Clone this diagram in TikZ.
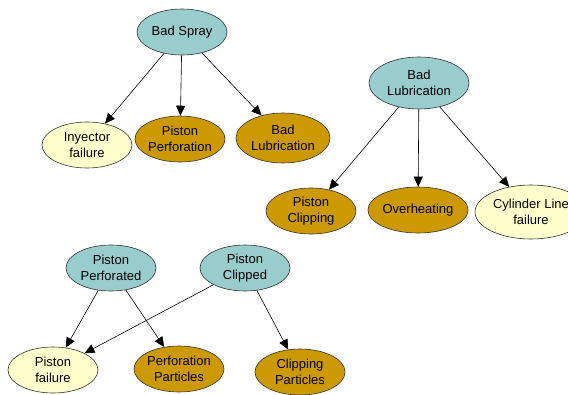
\documentclass[tikz,border=0pt]{standalone}
\usepackage{fontspec}
\setmainfont{Liberation Sans}
\usetikzlibrary{shapes.geometric,arrows.meta}
\definecolor{causeC}{HTML}{99CCCC}
\definecolor{effectC}{HTML}{CC9900}
\definecolor{failC}{HTML}{FFFFCC}
\definecolor{edgeC}{HTML}{333333}
\tikzset{
  evt/.style={ellipse, draw=edgeC, line width=0.6pt, inner sep=0pt,
    minimum width=90pt, minimum height=46pt, align=center,
    font=\fontsize{13}{16}\selectfont},
  cause/.style={evt, fill=causeC},
  effect/.style={evt, fill=effectC},
  fail/.style={evt, fill=failC},
  link/.style={draw=black, line width=0.6pt, -{Triangle[length=10pt,width=9pt]}}
}
\begin{document}
\begin{tikzpicture}[x=1pt,y=-1pt]
\clip (0,0) rectangle (568,394);
\fill[white] (0,0) rectangle (568,394);
% bad spray group
\node[cause] (spray) at (182,32) {Bad Spray};
\node[fail] (inyector) at (87,145) {Inyector\\failure};
\node[effect] (perforation) at (180,139) {Piston\\Perforation};
\node[effect, minimum width=94pt, minimum height=50pt] (lubL) at (283,138) {Bad\\Lubrication};
% bad lubrication group
\node[cause, minimum width=100pt, minimum height=52pt] (lub) at (419,83) {Bad\\Lubrication};
\node[effect] (clipping) at (311,211) {Piston\\Clipping};
\node[effect] (overheat) at (418,210) {Overheating};
\node[fail, minimum width=112pt, minimum height=54pt] (liner) at (531,212) {Cylinder Line\\failure};
% piston groups
\node[cause] (perforated) at (111,268) {Piston\\Perforated};
\node[cause] (clipped) at (245,268) {Piston\\Clipped};
\node[fail] (pfail) at (53,370) {Piston\\failure};
\node[effect] (pparts) at (179,369) {Perforation\\Particles};
\node[effect] (cparts) at (300,372) {Clipping\\Particles};
% connectors
\draw[link] (spray) -- (inyector);
\draw[link] (spray) -- (perforation);
\draw[link] (spray) -- (lubL);
\draw[link] (lub) -- (clipping);
\draw[link] (lub) -- (overheat);
\draw[link] (lub) -- (liner);
\draw[link] (perforated) -- (pfail);
\draw[link] (perforated) -- (pparts);
\draw[link] (clipped) -- (pfail);
\draw[link] (clipped) -- (cparts);
\end{tikzpicture}
\end{document}
